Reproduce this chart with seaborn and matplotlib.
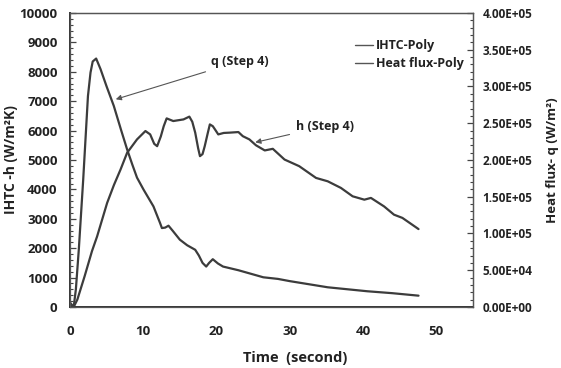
import matplotlib
matplotlib.use("Agg")
import matplotlib.pyplot as plt
import matplotlib.ticker as mticker
from matplotlib.lines import Line2D
import seaborn as sns

# ---- data ----
time_h = [0.0, 0.5, 1.0, 2.0, 3.0, 3.7, 5.07, 6.0, 6.9, 7.8, 9.15, 10.3, 10.95, 11.5, 11.9,
          12.4, 12.8, 13.2, 14.1, 15.5, 16.3, 16.7, 17.1, 17.5, 17.75, 18.1, 18.4, 18.8,
          19.1, 19.5, 19.8, 20.25, 21.0, 21.8, 23.0, 23.6, 24.5, 25.4, 26.6, 27.7, 29.3,
          31.3, 33.6, 35.2, 37.0, 38.6, 40.2, 41.1, 42.9, 44.25, 45.4, 47.4, 47.6]
ihtc = [150, 0, 250, 1050, 1900, 2400, 3540, 4150, 4675, 5245, 5700, 5985, 5870, 5550, 5470,
        5800, 6150, 6415, 6325, 6380, 6475, 6300, 5930, 5400, 5130, 5200, 5470, 5900,
        6210, 6150, 6040, 5870, 5920, 5930, 5950, 5810, 5700, 5500, 5325, 5380, 5015,
        4790, 4390, 4275, 4050, 3765, 3650, 3710, 3420, 3140, 3030, 2685, 2650]

time_q = [0.0, 0.5, 0.8, 1.2, 1.8, 2.45, 2.8, 3.1, 3.57, 4.17, 5.0, 5.98, 7.0, 7.8, 8.5,
          9.15, 10.05, 11.4, 12.3, 12.55, 13.0, 13.45, 14.0, 15.0, 16.0, 17.1, 17.6, 18.1,
          18.6, 19.0, 19.5, 20.2, 20.9, 23.0, 26.4, 28.4, 30.0, 35.2, 40.6, 44.0, 47.6]
heat_flux = [4000, 0, 24000, 78000, 173000, 287000, 319000, 334000, 338000, 323600, 300000,
             273600, 240000, 214400, 194000, 176000, 159600, 136800, 114200, 107400, 108000,
             110600, 104000, 91600, 84000, 77800, 70000, 60000, 55000, 60000, 65000, 59200,
             55000, 50000, 40400, 38200, 35200, 26800, 21400, 18800, 15400]

series_labels = ["IHTC-Poly", "Heat flux-Poly"]
x_label = "Time  (second)"
y_left_label = "IHTC -h (W/m²K)"
y_right_label = "Heat flux- q (W/m²)"

# ---- style ----
sns.set_style("white")
plt.rcParams["font.family"] = ["Open Sans", "DejaVu Sans"]
plt.rcParams["font.weight"] = "bold"
plt.rcParams["axes.labelweight"] = "bold"

line_color = "#3c3c3c"
text_color = "#222222"

fig = plt.figure(figsize=(5.61, 3.68), dpi=100)
ax = fig.add_axes([0.1248, 0.1658, 0.7178, 0.7989])
ax2 = ax.twinx()

sns.lineplot(x=time_h, y=ihtc, ax=ax, color=line_color, lw=1.6, legend=False)
sns.lineplot(x=time_q, y=heat_flux, ax=ax2, color=line_color, lw=1.6, legend=False)

ax.set_xlim(0, 55)
ax.set_ylim(0, 10000)
ax2.set_ylim(0, 400000)

ax.xaxis.set_major_locator(mticker.MultipleLocator(10))
ax.xaxis.set_minor_locator(mticker.MultipleLocator(2))
ax.yaxis.set_major_locator(mticker.MultipleLocator(1000))
ax.yaxis.set_minor_locator(mticker.MultipleLocator(200))
ax2.yaxis.set_major_locator(mticker.MultipleLocator(50000))
ax2.yaxis.set_minor_locator(mticker.MultipleLocator(10000))
ax2.yaxis.set_major_formatter(mticker.FuncFormatter(lambda v, p: f"{v:.2E}"))

for a in (ax, ax2):
    for s in a.spines.values():
        s.set_color("#555555")
        s.set_linewidth(0.9)
ax.spines["left"].set_color("#333333")
ax.spines["left"].set_linewidth(1.4)
ax.spines["bottom"].set_color("#333333")
ax.spines["bottom"].set_linewidth(1.4)

ax.tick_params(axis="x", which="both", direction="in", length=4, width=0.9,
               colors="#444444", labelcolor=text_color, labelsize=9.5, pad=13, top=False)
ax.tick_params(axis="y", which="major", direction="in", length=4, width=0.9,
               colors="#444444", labelcolor=text_color, labelsize=9.5, pad=9)
ax.tick_params(axis="y", which="minor", direction="in", length=2.5, width=0.8, colors="#444444")
ax2.tick_params(axis="y", which="major", direction="in", length=4, width=0.9,
                colors="#444444", labelcolor=text_color, labelsize=8.5, pad=7)
ax2.tick_params(axis="y", which="minor", direction="in", length=2.5, width=0.8, colors="#444444")

for lab in ax.get_xticklabels() + ax.get_yticklabels() + ax2.get_yticklabels():
    lab.set_fontweight("bold")

ax.set_xlabel(x_label, fontsize=10.5, fontweight="bold", color=text_color)
ax.xaxis.set_label_coords(0.56, -0.15)
ax.set_ylabel(y_left_label, fontsize=10, fontweight="bold", color=text_color)
ax.yaxis.set_label_coords(-0.128, 0.5)
ax2.set_ylabel(y_right_label, fontsize=9.5, fontweight="bold", color=text_color, rotation=90)
ax2.yaxis.set_label_coords(1.183, 0.5)

# legend
handles = [Line2D([], [], color="#555555", lw=1.0), Line2D([], [], color="#555555", lw=1.0)]
ax.legend(handles, series_labels, loc="upper left", bbox_to_anchor=(0.68, 0.95),
          frameon=False, handlelength=1.4, handletextpad=0.3, labelspacing=0.4,
          prop={"weight": "bold", "size": 9}, labelcolor=text_color)

# annotations
ax.annotate("q (Step 4)", xy=(6.25, 7065), xytext=(19.3, 8360), ha="left", va="center",
            fontsize=9, fontweight="bold", color=text_color,
            arrowprops=dict(arrowstyle="-|>", color="#555555", lw=0.8, mutation_scale=8,
                            shrinkA=2, shrinkB=0))
ax.annotate("h (Step 4)", xy=(25.3, 5600), xytext=(30.8, 6140), ha="left", va="center",
            fontsize=9, fontweight="bold", color=text_color,
            arrowprops=dict(arrowstyle="-|>", color="#555555", lw=0.8, mutation_scale=8,
                            shrinkA=2, shrinkB=0))

fig.savefig("out.png", dpi=100)
